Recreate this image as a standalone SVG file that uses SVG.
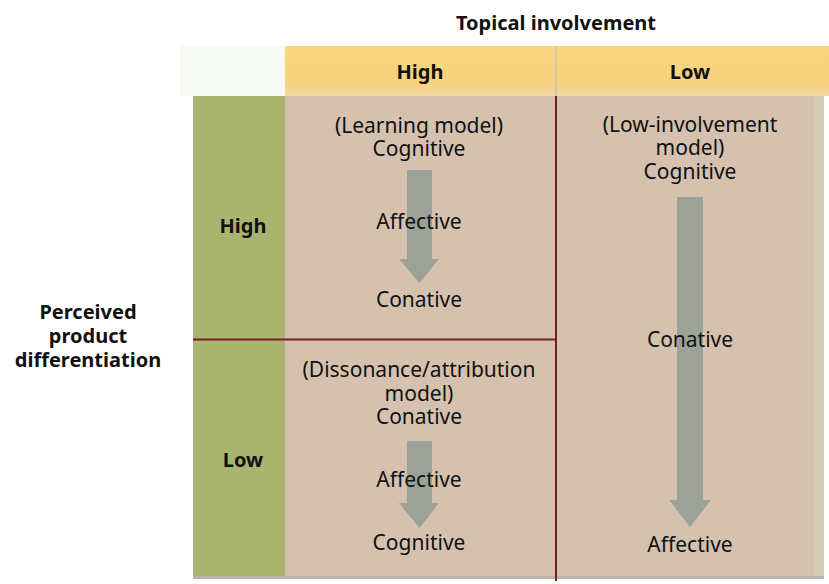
<svg xmlns="http://www.w3.org/2000/svg" width="829" height="584" viewBox="0 0 829 584">
<defs>
<style>
.t{font-family:"Noto Sans","Open Sans","Liberation Sans",sans-serif;font-size:21px;fill:#111;text-anchor:middle}
.b{font-family:"Noto Sans","Open Sans","Liberation Sans",sans-serif;font-size:20px;font-weight:bold;fill:#111;text-anchor:middle}
.div{stroke:#7a1a2c;stroke-width:2;fill:none}
.arrow{fill:#9ca297}
.cell{fill:#d5c1ae}
.rowhead{fill:#a9b46f}
</style>
<linearGradient id="hdr" x1="0" y1="0" x2="0" y2="1">
<stop offset="0" stop-color="#f9d67e"/>
<stop offset="0.7" stop-color="#f8d27c"/>
<stop offset="1" stop-color="#f3d6a2"/>
</linearGradient>
</defs>
<rect width="829" height="584" fill="#ffffff"/>
<g id="table">
<rect x="180" y="45" width="105" height="51" fill="#f7faf5"/>
<rect x="285" y="46" width="544" height="50" fill="url(#hdr)"/>
<line x1="556" y1="46" x2="556" y2="96" stroke="#c9c0b4" stroke-width="1.5"/>
<rect class="rowhead" x="193" y="96" width="92" height="481"/>
<rect class="cell" x="285" y="96" width="539" height="481"/>
<rect x="814" y="96" width="10" height="481" fill="#d4ceb4"/>
<rect x="193" y="576" width="631" height="3" fill="#b9b5a8"/>
</g>
<g id="connectors">
<polygon class="arrow" points="407,170 432,170 432,259 439,259 419.5,283 399,259 407,259"/>
<polygon class="arrow" points="407,441 432,441 432,503 439,503 419.5,528 399,503 407,503"/>
<polygon class="arrow" points="677,197 703,197 703,500 711,500 690,527 669,500 677,500"/>
<line class="div" x1="556" y1="96" x2="556" y2="581"/>
<line class="div" x1="193" y1="339.5" x2="556" y2="339.5"/>
</g>
<g id="column-title">
<text class="b" x="556" y="30">Topical involvement</text>
</g>
<g id="row-title">
<text class="b" x="88" y="319">Perceived</text>
<text class="b" x="88" y="343">product</text>
<text class="b" x="88" y="367">differentiation</text>
</g>
<g id="header-high">
<text class="b" x="420" y="79">High</text>
</g>
<g id="header-low">
<text class="b" x="690" y="79">Low</text>
</g>
<g id="row-high">
<text class="b" x="243" y="233">High</text>
</g>
<g id="row-low">
<text class="b" x="243" y="467">Low</text>
</g>
<g id="cell-learning">
<text class="t" x="419" y="133">(Learning model)</text>
<text class="t" x="419" y="156">Cognitive</text>
<text class="t" x="419" y="229">Affective</text>
<text class="t" x="419" y="307">Conative</text>
</g>
<g id="cell-dissonance">
<text class="t" x="419" y="377">(Dissonance/attribution</text>
<text class="t" x="419" y="401">model)</text>
<text class="t" x="419" y="424">Conative</text>
<text class="t" x="419" y="487">Affective</text>
<text class="t" x="419" y="550">Cognitive</text>
</g>
<g id="cell-low-involvement">
<text class="t" x="690" y="132">(Low-involvement</text>
<text class="t" x="690" y="155">model)</text>
<text class="t" x="690" y="179">Cognitive</text>
<text class="t" x="690" y="347">Conative</text>
<text class="t" x="690" y="552">Affective</text>
</g>
</svg>
